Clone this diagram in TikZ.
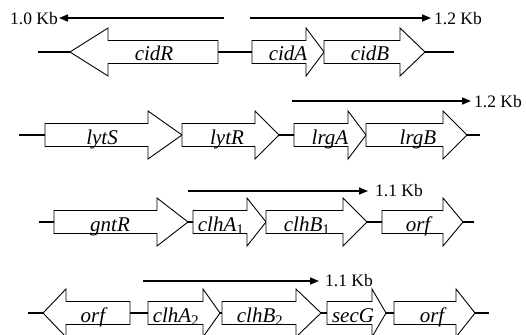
\documentclass[tikz,border=0pt]{standalone}
\usepackage{fontspec}
\setmainfont{Liberation Serif}
\usetikzlibrary{arrows.meta}

% forward gene: name, left x, head base x, tip x, axis y, label x, label
\newcommand\genefwd[7]{%
  \draw[genebox] (#2,#5-11.5) -- (#3,#5-11.5) -- (#3,#5-24) -- (#4,#5)
    -- (#3,#5+24) -- (#3,#5+11.5) -- (#2,#5+11.5) -- cycle;
  \coordinate (#1-w) at (#2,#5);
  \coordinate (#1-e) at (#4,#5);
  \node[genelabel] (#1) at (#6,#5+9) {#7};}
% reverse gene: name, tip x, head base x, right x, axis y, label x, label
\newcommand\generev[7]{%
  \draw[genebox] (#2,#5) -- (#3,#5-24) -- (#3,#5-11.5) -- (#4,#5-11.5)
    -- (#4,#5+11.5) -- (#3,#5+11.5) -- (#3,#5+24) -- cycle;
  \coordinate (#1-w) at (#2,#5);
  \coordinate (#1-e) at (#4,#5);
  \node[genelabel] (#1) at (#6,#5+9) {#7};}

\begin{document}
\begin{tikzpicture}[x=1pt,y=-1pt,
  genebox/.style={draw=black,line width=0.9pt,fill=white,line join=miter},
  genelabel/.style={anchor=base,inner sep=0pt,font=\fontsize{21}{24}\selectfont\itshape},
  spine/.style={line width=1.6pt},
  span/.style={line width=1.6pt,-{Triangle[length=9pt,width=7pt]}},
  kb/.style={inner sep=0pt,font=\fontsize{17.5}{20}\selectfont}]
\useasboundingbox (0,0) rectangle (526,334);

% operon 1: cidR / cidAB
\coordinate (r1s) at (38,52);
\coordinate (r1e) at (454,52);
\draw[spine] (r1s) -- (70,52);
\draw[spine] (218,52) -- (252,52);
\draw[spine] (425,52) -- (r1e);
\generev{cidR}{70}{108}{218}{52}{154}{cidR}
\genefwd{cidA}{252}{306}{324}{52}{288}{cidA}
\genefwd{cidB}{324}{400}{425}{52}{370}{cidB}
\coordinate (a1s) at (224,18);
\coordinate (a1e) at (59,18);
\coordinate (a2s) at (250,18);
\coordinate (a2e) at (431,18);
\draw[span] (a1s) -- (a1e);
\draw[span] (a2s) -- (a2e);
\node[kb,anchor=east] (k1) at (58,19) {1.0 Kb};
\node[kb,anchor=west] (k2) at (434,19) {1.2 Kb};

% operon 2: lytSR / lrgAB
\coordinate (r2s) at (19,135);
\coordinate (r2e) at (480,135);
\draw[spine] (r2s) -- (45,135);
\draw[spine] (279,135) -- (294,135);
\draw[spine] (467,135) -- (r2e);
\genefwd{lytS}{45}{148}{182}{135}{102}{lytS}
\genefwd{lytR}{182}{255}{279}{135}{227}{lytR}
\genefwd{lrgA}{294}{348}{366}{135}{330}{lrgA}
\genefwd{lrgB}{366}{443}{467}{135}{418}{lrgB}
\coordinate (a3s) at (292,101);
\coordinate (a3e) at (471,101);
\draw[span] (a3s) -- (a3e);
\node[kb,anchor=west] (k3) at (474,102) {1.2 Kb};

% operon 3: gntR / clhA1B1 / orf
\coordinate (r3s) at (39,222);
\coordinate (r3e) at (474,222);
\draw[spine] (r3s) -- (54,222);
\draw[spine] (188,222) -- (193,222);
\draw[spine] (367,222) -- (382,222);
\draw[spine] (463,222) -- (r3e);
\genefwd{gntR}{54}{157}{188}{222}{110}{gntR}
\genefwd{clhAi}{193}{247}{266}{222}{221}{clhA\textsubscript{\upshape 1}}
\genefwd{clhBi}{266}{343}{367}{222}{307}{clhB\textsubscript{\upshape 1}}
\genefwd{orfi}{382}{443}{463}{222}{418}{orf}
\coordinate (a4s) at (188,191);
\coordinate (a4e) at (368,191);
\draw[span] (a4s) -- (a4e);
\node[kb,anchor=west] (k4) at (375,191) {1.1 Kb};

% operon 4: orf / clhA2B2 / secG / orf
\coordinate (r4s) at (28,313);
\coordinate (r4e) at (489,313);
\draw[spine] (r4s) -- (43,313);
\draw[spine] (130,313) -- (148,313);
\draw[spine] (220,313) -- (222,313);
\draw[spine] (321,313) -- (327,313);
\draw[spine] (386,313) -- (394,313);
\draw[spine] (475,313) -- (r4e);
\generev{orfii}{43}{66}{130}{313}{93}{orf}
\genefwd{clhAii}{148}{203}{220}{313}{176}{clhA\textsubscript{\upshape 2}}
\genefwd{clhBii}{222}{296}{321}{313}{260}{clhB\textsubscript{\upshape 2}}
\genefwd{secG}{327}{372}{386}{313}{353}{secG}
\genefwd{orfiii}{394}{456}{475}{313}{432}{orf}
\coordinate (a5s) at (143,281);
\coordinate (a5e) at (319,281);
\draw[span] (a5s) -- (a5e);
\node[kb,anchor=west] (k5) at (325,281) {1.1 Kb};
\end{tikzpicture}
\end{document}
